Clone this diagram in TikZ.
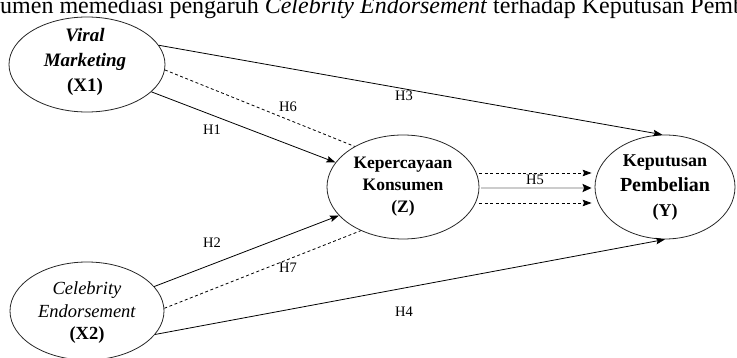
\documentclass[tikz,border=0pt]{standalone}
\usepackage{fontspec}
\setmainfont{Liberation Serif}
\usetikzlibrary{shapes.geometric,arrows.meta}
\begin{document}
\begin{tikzpicture}[x=1pt,y=-1pt,
  var/.style={ellipse,draw=black!85,line width=0.8pt,inner sep=0pt},
  vtext/.style={align=center,inner sep=0pt,font=\fontsize{17.5}{22}\selectfont\bfseries},
  tip/.style={-{Stealth[length=9pt,width=6.5pt,inset=1.5pt]}},
  conn/.style={line width=0.8pt,tip},
  dline/.style={line width=0.8pt,dash pattern=on 3pt off 2.5pt},
  lab/.style={font=\fontsize{14.5}{16}\selectfont,inner sep=0pt}]
\useasboundingbox (0,0) rectangle (737,358);
\clip (0,0) rectangle (737,358);
% clipped running text line
\node[anchor=base west,inner sep=0pt,font=\fontsize{24}{28}\selectfont] (title) at (0,14)
  {umen memediasi pengaruh \textit{Celebrity Endorsement} terhadap Keputusan Pembelian};
% ellipses
\node[var,minimum width=156pt,minimum height=95pt] (x1) at (87,64.5) {};
\node[var,minimum width=154pt,minimum height=98pt] (x2) at (87,311) {};
\node[var,minimum width=152pt,minimum height=104pt] (z) at (403,187) {};
\node[var,minimum width=140pt,minimum height=104pt] (y) at (665,187) {};
% texts
\node[vtext,font=\fontsize{19}{25}\selectfont\bfseries] (x1t) at (85,62) {\textit{Viral}\\\textit{Marketing}\\(X1)};
\node[vtext,font=\fontsize{18.5}{22.5}\selectfont] (x2t) at (87,313) {\textit{Celebrity}\\\textit{Endorsement}\\\textbf{(X2)}};
\node[vtext] (zt) at (403,187) {Kepercayaan\\Konsumen\\(Z)};
\node[vtext,font=\fontsize{18}{25}\selectfont\bfseries] (yt) at (665,188) {Keputusan\\{\fontsize{20}{25}\selectfont Pembelian}\\(Y)};
% connectors
\draw[conn] (x1.15) -- (y.93);
\draw[dline] (x1.-4) -- (z.140);
\draw[conn] (x1.-23) -- (z.160);
\draw[conn] (x2.20) -- (z.204);
\draw[dline] (x2.2) -- (z.226);
\draw[conn] (x2.-19) -- (y.-90);
\draw[dline,tip] ([yshift=14pt]z.east) -- ([yshift=14pt,xshift=-3pt]y.west);
\draw[gray!40,line width=2.8pt,-{Stealth[black,length=9pt,width=8pt,inset=1.5pt]}] ([yshift=-1pt,xshift=2pt]z.east) -- ([yshift=-1pt,xshift=-3pt]y.west);
\draw[dline,tip] ([yshift=-16pt]z.east) -- ([yshift=-16pt,xshift=-3pt]y.west);
% labels
\node[lab] (h3) at (404,96) {H3};
\node[lab] (h6) at (288,107) {H6};
\node[lab] (h1) at (212,130) {H1};
\node[lab] (h2) at (212,243) {H2};
\node[lab] (h7) at (288,268) {H7};
\node[lab] (h4) at (404,312) {H4};
\node[lab] (h5) at (535,180) {H5};
\end{tikzpicture}
\end{document}
